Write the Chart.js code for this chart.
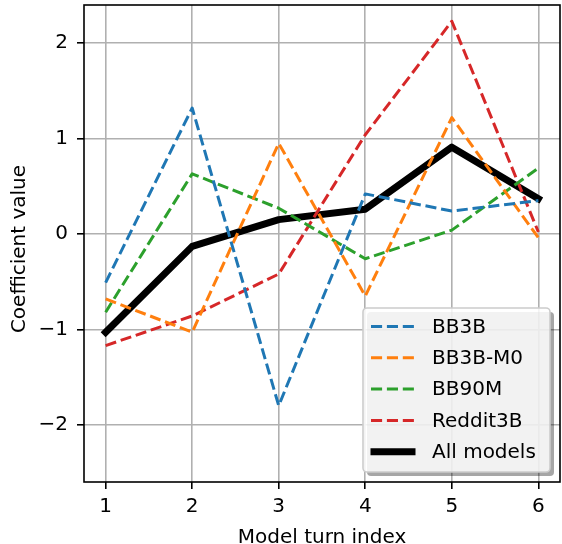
<!DOCTYPE html>
<html>
<head>
<meta charset="utf-8">
<script src="https://cdn.jsdelivr.net/npm/chart.js@4/dist/chart.umd.min.js"></script>
<style>
  html, body { margin: 0; padding: 0; background: #fff; }
  #wrap { width: 562px; height: 544px; }
</style>
</head>
<body>
<div id="wrap"><canvas id="coefChart" width="562" height="544"></canvas></div>
<script>
const turns = [1, 2, 3, 4, 5, 6];
const xTicks = [1, 2, 3, 4, 5, 6];
const yTicks = [-2, -1, 0, 1, 2];
const xLabel = 'Model turn index';
const yLabel = 'Coefficient value';

const bb3b = [-0.51, 1.32, -1.80, 0.42, 0.24, 0.35];
const bb3bM0 = [-0.68, -1.03, 0.95, -0.65, 1.22, -0.04];
const bb90m = [-0.82, 0.63, 0.27, -0.26, 0.04, 0.69];
const reddit3b = [-1.17, -0.86, -0.42, 1.04, 2.23, 0.02];
const allModels = [-1.03, -0.13, 0.15, 0.26, 0.91, 0.37];

const FONT = 'DejaVu Sans';

function series(label, values, color, dashed) {
    return {
        label: label,
        data: values.map((v, i) => ({ x: turns[i], y: v })),
        borderColor: color,
        backgroundColor: color,
        borderWidth: dashed ? 3 : 7,
        borderDash: dashed ? [11.1, 4.8] : [],
        borderCapStyle: dashed ? 'butt' : 'square',
        borderJoinStyle: 'round',
        pointRadius: 0,
        pointHoverRadius: 0,
        tension: 0,
        fill: false
    };
}

// black frame round the plot area, like matplotlib spines
const frame = {
    id: 'frame',
    afterDatasetsDraw(chart) {
        const a = chart.chartArea, ctx = chart.ctx;
        ctx.save();
        ctx.strokeStyle = '#000';
        ctx.lineWidth = 1.6;
        ctx.strokeRect(a.left, a.top, a.right - a.left, a.bottom - a.top);
        ctx.restore();
    }
};

// axis titles, placed where matplotlib put them
const axisTitles = {
    id: 'axisTitles',
    afterDraw(chart) {
        const a = chart.chartArea, ctx = chart.ctx;
        ctx.save();
        ctx.font = '20px "' + FONT + '"';
        ctx.fillStyle = '#000';
        ctx.textAlign = 'center';
        ctx.textBaseline = 'alphabetic';
        ctx.fillText(xLabel, (a.left + a.right) / 2, 542.5);
        ctx.translate(24.5, 249);
        ctx.rotate(-Math.PI / 2);
        ctx.fillText(yLabel, 0, 0);
        ctx.restore();
    }
};

// legend boxed in the lower right corner
const boxLegend = {
    id: 'boxLegend',
    afterDraw(chart) {
        const a = chart.chartArea, ctx = chart.ctx;
        const w = 187, h = 164;
        const x0 = a.right - 10 - w, y0 = a.bottom - 10 - h;
        const rr = (x, y) => {
            ctx.beginPath();
            ctx.roundRect(x, y, w, h, 4);
        };
        ctx.save();
        rr(x0 + 4, y0 + 4);
        ctx.fillStyle = 'rgba(0,0,0,0.35)';
        ctx.fill();
        rr(x0, y0);
        ctx.fillStyle = 'rgba(255,255,255,0.85)';
        ctx.fill();
        ctx.strokeStyle = '#cccccc';
        ctx.lineWidth = 1.6;
        ctx.stroke();

        ctx.font = '20px "' + FONT + '"';
        ctx.textBaseline = 'middle';
        ctx.fillStyle = '#000';
        chart.data.datasets.forEach((ds, i) => {
            const cy = y0 + 18.5 + i * 31.3;
            ctx.beginPath();
            ctx.strokeStyle = ds.borderColor;
            ctx.lineWidth = ds.borderWidth;
            ctx.setLineDash(ds.borderDash);
            ctx.lineCap = ds.borderCapStyle;
            const hs = x0 + 8 + (ds.borderDash.length ? 0 : 3);
            const he = x0 + 52 - (ds.borderDash.length ? 0 : 3);
            ctx.moveTo(hs, cy);
            ctx.lineTo(he, cy);
            ctx.stroke();
            ctx.setLineDash([]);
            ctx.fillText(ds.label, x0 + 69, cy + 1);
        });
        ctx.restore();
    }
};

new Chart(document.getElementById('coefChart').getContext('2d'), {
    type: 'line',
    data: {
        datasets: [
            series('BB3B', bb3b, '#1f77b4', true),
            series('BB3B-M0', bb3bM0, '#ff7f0e', true),
            series('BB90M', bb90m, '#2ca02c', true),
            series('Reddit3B', reddit3b, '#d62728', true),
            series('All models', allModels, '#000000', false)
        ]
    },
    options: {
        responsive: false,
        animation: false,
        devicePixelRatio: 1,
        layout: { padding: { top: 5, right: 2, left: 0, bottom: 0 } },
        plugins: { legend: { display: false }, tooltip: { enabled: false } },
        scales: {
            x: {
                type: 'linear',
                min: 0.75,
                max: 6.25,
                afterBuildTicks: s => { s.ticks = xTicks.map(v => ({ value: v })); },
                afterFit: s => { s.height = 62; s.paddingLeft = 0; s.paddingRight = 0; },
                grid: { color: '#b0b0b0', lineWidth: 1.6, tickColor: '#000', tickLength: 7, drawTicks: true },
                border: { display: false },
                ticks: { color: '#000', font: { family: FONT, size: 20 }, padding: 6, maxRotation: 0 },
                title: { display: false }
            },
            y: {
                min: -2.6,
                max: 2.4,
                afterBuildTicks: s => { s.ticks = yTicks.map(v => ({ value: v })); },
                afterFit: s => { s.width = 84; s.paddingTop = 0; s.paddingBottom = 0; },
                grid: { color: '#b0b0b0', lineWidth: 1.6, tickColor: '#000', tickLength: 7, drawTicks: true },
                border: { display: false },
                ticks: {
                    color: '#000',
                    font: { family: FONT, size: 20 },
                    padding: 9,
                    callback: v => String(v).replace('-', '\u2212')
                },
                title: { display: false }
            }
        }
    },
    plugins: [frame, boxLegend, axisTitles]
});
</script>
</body>
</html>
